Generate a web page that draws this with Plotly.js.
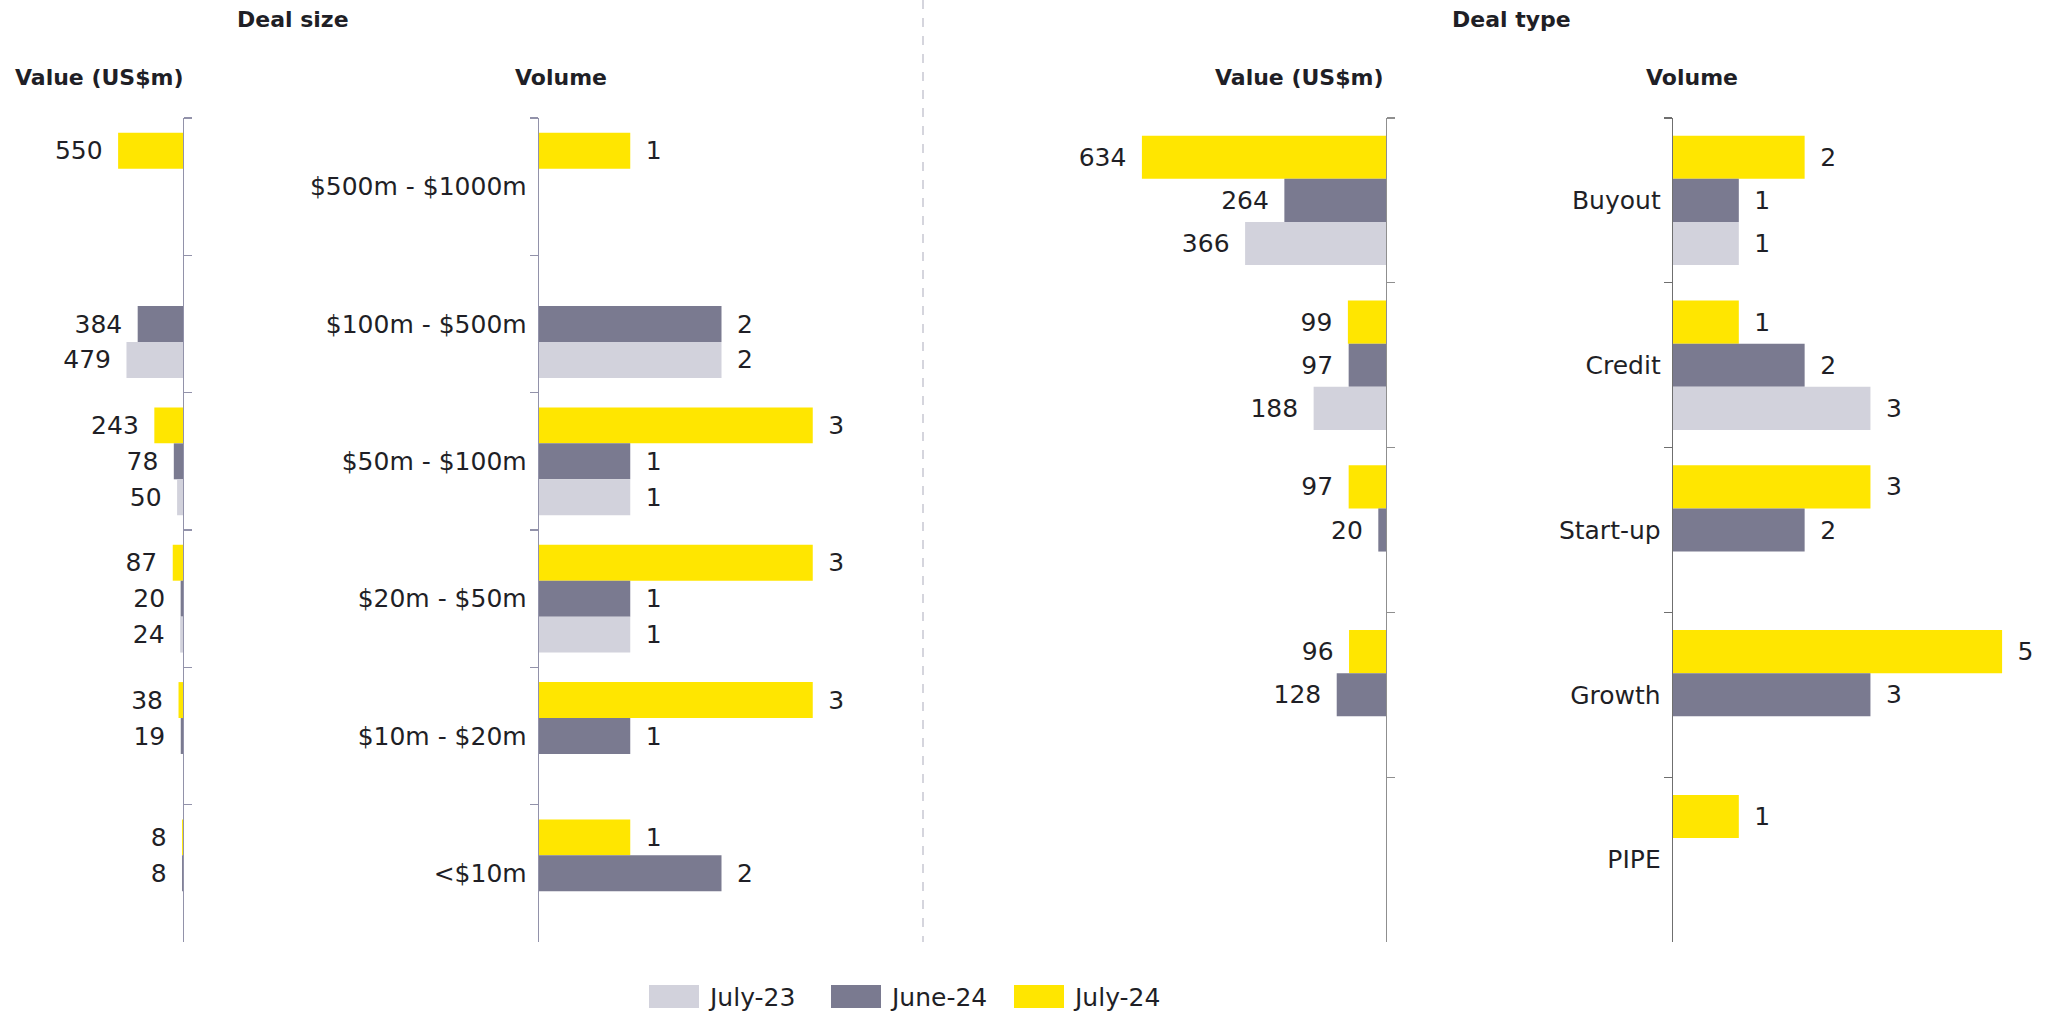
<!DOCTYPE html>
<html><head><meta charset="utf-8">
<script src="https://cdn.plot.ly/plotly-3.0.1.min.js"></script>
<style>html,body{margin:0;padding:0;background:#fff;overflow:hidden}</style>
</head><body><div id="chart" style="width:2057px;height:1015px"></div>
<script>
// ---- data ----
const seriesNames = ['July-24', 'June-24', 'July-23'];
const legendOrder = ['July-23', 'June-24', 'July-24'];

const sizeCategories = ['$500m - $1000m', '$100m - $500m', '$50m - $100m', '$20m - $50m', '$10m - $20m', '<$10m'];
const sizeValueJul24 = [550, null, 243, 87, 38, 8];
const sizeValueJun24 = [null, 384, 78, 20, 19, 8];
const sizeValueJul23 = [null, 479, 50, 24, null, null];
const sizeVolumeJul24 = [1, null, 3, 3, 3, 1];
const sizeVolumeJun24 = [null, 2, 1, 1, 1, 2];
const sizeVolumeJul23 = [null, 2, 1, 1, null, null];

const typeCategories = ['Buyout', 'Credit', 'Start-up', 'Growth', 'PIPE'];
const typeValueJul24 = [634, 99, 97, 96, null];
const typeValueJun24 = [264, 97, 20, 128, null];
const typeValueJul23 = [366, 188, null, null, null];
const typeVolumeJul24 = [2, 1, 3, 5, 1];
const typeVolumeJun24 = [1, 2, 2, 3, null];
const typeVolumeJul23 = [1, 3, null, null, null];

const panelTitles = ['Deal size', 'Deal type'];
const subTitles = ['Value (US$m)', 'Volume'];

// ---- styles ----
const W = 2057, H = 1015;
const colors = {'July-24': '#FFE600', 'June-24': '#7A7A90', 'July-23': '#D2D2DC'};
const FONT = 'DejaVu Sans, Verdana, sans-serif';
const txtColor = '#1f1f26';
const px = v => v / W;
const py = v => 1 - v / H;
const ENSP = '\u2002';

function traces(cats, arrays, xa, ya, labelLeft) {
  return arrays.map((vals, i) => ({
    type: 'bar', orientation: 'h',
    name: seriesNames[i],
    y: cats, x: vals,
    xaxis: xa, yaxis: ya,
    marker: {color: colors[seriesNames[i]]},
    text: vals.map(v => v == null ? '' : (labelLeft ? v + ENSP : ENSP + v)),
    textposition: 'outside',
    constraintext: 'none',
    cliponaxis: false,
    textfont: {family: FONT, size: 25, color: txtColor},
    outsidetextfont: {family: FONT, size: 25, color: txtColor},
    hoverinfo: 'none',
    showlegend: false
  }));
}

const data = [].concat(
  traces(sizeCategories, [sizeValueJul24, sizeValueJun24, sizeValueJul23], 'x', 'y', true),
  traces(sizeCategories, [sizeVolumeJul24, sizeVolumeJun24, sizeVolumeJul23], 'x2', 'y2', false),
  traces(typeCategories, [typeValueJul24, typeValueJun24, typeValueJul23], 'x3', 'y3', true),
  traces(typeCategories, [typeVolumeJul24, typeVolumeJun24, typeVolumeJul23], 'x4', 'y4', false)
);

const yDom = [1 - 942 / H, 1 - 118 / H];
function xax(dom, range, anchor) {
  return {domain: dom, range: range, anchor: anchor, showline: false, showgrid: false,
          zeroline: false, showticklabels: false, ticks: '', fixedrange: true};
}
function yax(cats, anchor, side, labels, lineColor) {
  return {domain: yDom, anchor: anchor, side: side, type: 'category',
          categoryorder: 'array', categoryarray: cats, autorange: 'reversed',
          showline: true, linecolor: lineColor, linewidth: 1.3,
          ticks: 'outside', ticklen: 8, tickcolor: lineColor, tickwidth: 1.3,
          tickson: 'boundaries', showgrid: false, zeroline: false,
          showticklabels: labels, ticklabelstandoff: 6,
          tickfont: {family: FONT, size: 25, color: txtColor}, fixedrange: true};
}

const annotations = [];
function ann(text, x, y, opts) {
  annotations.push(Object.assign({text: text, x: px(x), y: py(y), xref: 'paper', yref: 'paper',
    showarrow: false, xanchor: 'center', yanchor: 'middle',
    font: {family: FONT, size: 22, color: txtColor}}, opts || {}));
}
ann('<b>' + panelTitles[0] + '</b>', 293, 20);
ann('<b>' + panelTitles[1] + '</b>', 1511, 20);
ann('<b>' + subTitles[0] + '</b>', 99, 77);
ann('<b>' + subTitles[1] + '</b>', 561, 77);
ann('<b>' + subTitles[0] + '</b>', 1299, 77);
ann('<b>' + subTitles[1] + '</b>', 1692, 77);

const shapes = [{type: 'line', xref: 'paper', yref: 'paper', x0: px(923), x1: px(923),
  y0: py(0), y1: py(942), line: {color: '#c8c8d2', width: 1.5, dash: 'dash'}}];

// custom legend (large swatches)
const legendX = [649, 831, 1014];
legendOrder.forEach((name, i) => {
  shapes.push({type: 'rect', xref: 'paper', yref: 'paper',
    x0: px(legendX[i]), x1: px(legendX[i] + 50), y0: py(1008), y1: py(985),
    fillcolor: colors[name], line: {width: 0}});
  ann(name, legendX[i] + 57, 997, {xanchor: 'left', font: {family: FONT, size: 25, color: txtColor}});
});

const layout = {
  width: W, height: H, margin: {l: 0, r: 0, t: 0, b: 0},
  paper_bgcolor: '#fff', plot_bgcolor: 'rgba(0,0,0,0)',
  barmode: 'group', bargap: 0.215, bargroupgap: 0,
  showlegend: false,
  xaxis: xax([0, px(183)], [1551, 0], 'y'),
  yaxis: yax(sizeCategories, 'x', 'right', false, '#9292aa'),
  xaxis2: xax([px(539), px(904)], [0, 4], 'y2'),
  yaxis2: yax(sizeCategories, 'x2', 'left', true, '#9292aa'),
  xaxis3: xax([px(1001), px(1386)], [1000, 0], 'y3'),
  yaxis3: yax(typeCategories, 'x3', 'right', false, '#8f8f8f'),
  xaxis4: xax([px(1673), px(2035)], [0, 5.5], 'y4'),
  yaxis4: yax(typeCategories, 'x4', 'left', true, '#6f6f6f'),
  annotations: annotations,
  shapes: shapes
};

Plotly.newPlot('chart', data, layout, {displayModeBar: false, staticPlot: true});
</script>
</body></html>
